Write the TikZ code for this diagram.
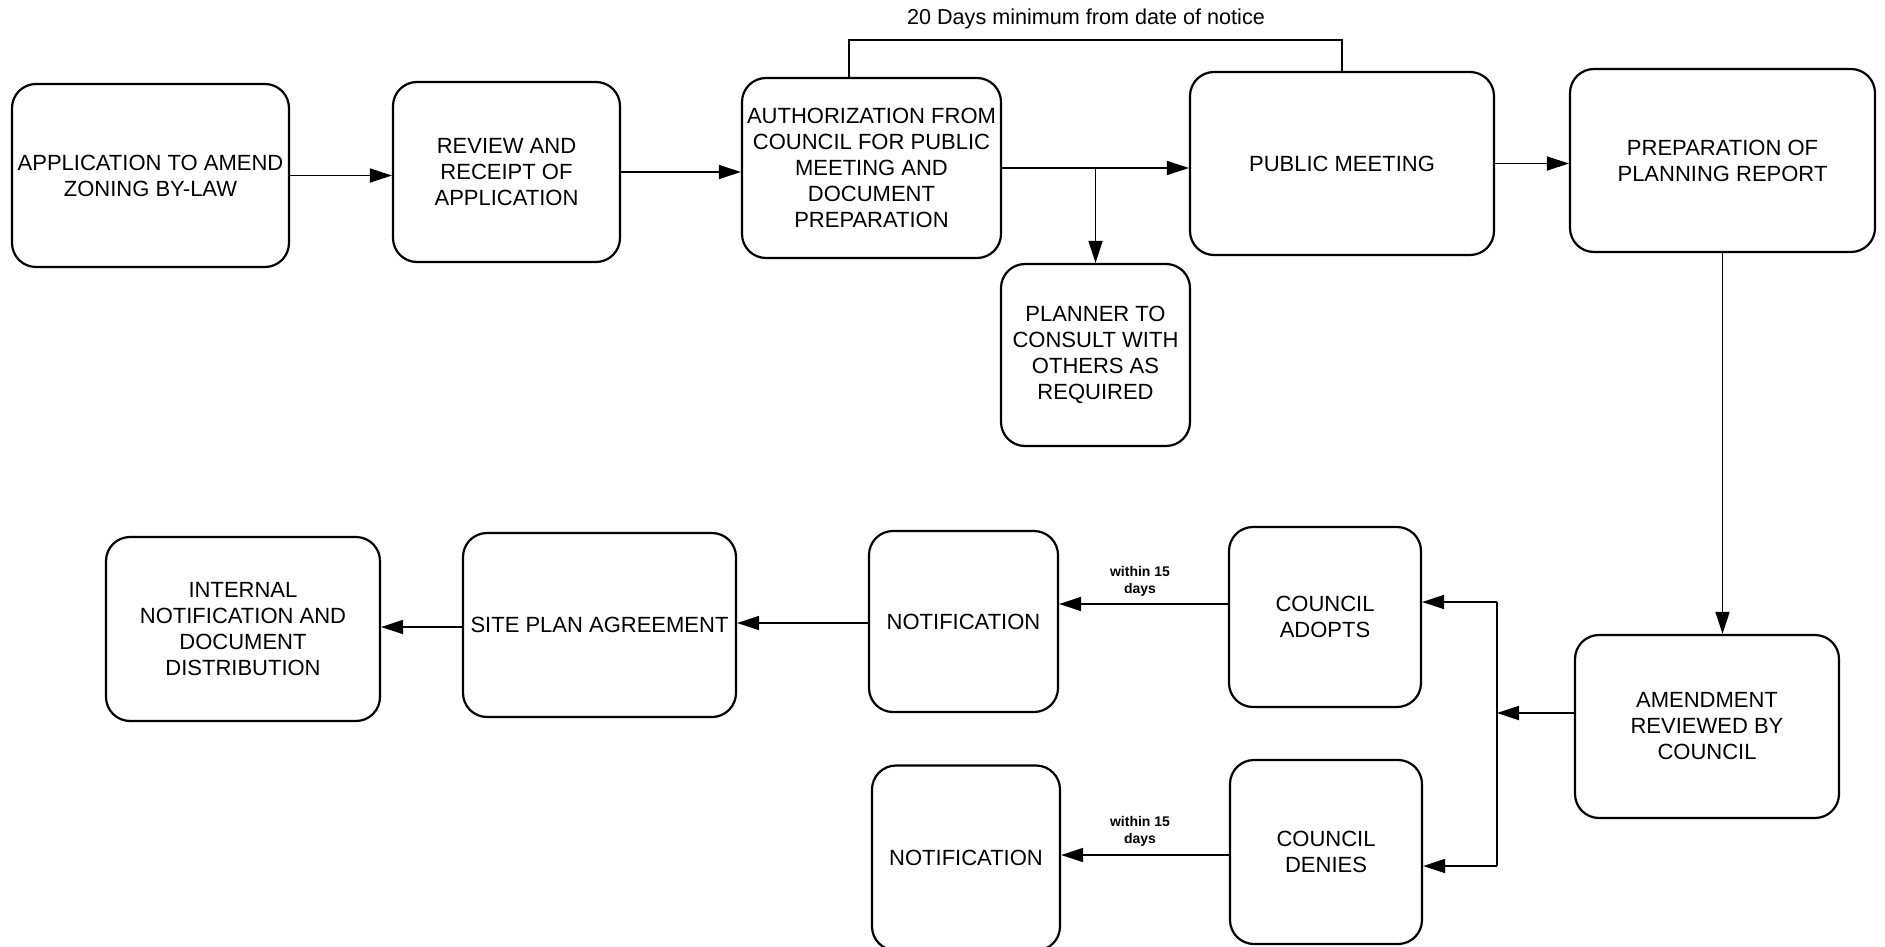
\documentclass[tikz,border=0pt]{standalone}
\usepackage{fontspec}
\setmainfont{Liberation Sans}
\usetikzlibrary{arrows.meta}
\begin{document}
\begin{tikzpicture}[x=0.5pt,y=-0.5pt,
  stepbox/.style={draw, line width=1.1pt, rounded corners=12pt, align=center,
    font=\fontsize{11}{13}\selectfont, inner sep=0pt},
  flow/.style={line width=0.9pt, -{Triangle[length=11pt,width=7pt]}},
  plain/.style={line width=0.9pt},
  note/.style={font=\bfseries\fontsize{7}{8.5}\selectfont, align=center, inner sep=0pt}]
\useasboundingbox (0,0) rectangle (1885,947);

% process steps, top row
\node[stepbox, minimum width=138.5pt, minimum height=91.5pt] (apply) at (150.5,175.5)
  {APPLICATION TO AMEND\\ZONING BY-LAW};
\node[stepbox, minimum width=113.5pt, minimum height=90pt] (review) at (506.5,172)
  {REVIEW AND\\RECEIPT OF\\APPLICATION};
\node[stepbox, minimum width=129.5pt, minimum height=90pt] (auth) at (871.5,168)
  {AUTHORIZATION FROM\\COUNCIL FOR PUBLIC\\MEETING AND\\DOCUMENT\\PREPARATION};
\node[stepbox, minimum width=152pt, minimum height=91.5pt] (meeting) at (1342,163.5)
  {PUBLIC MEETING};
\node[stepbox, minimum width=152.5pt, minimum height=91.5pt] (report) at (1722.5,160.5)
  {PREPARATION OF\\PLANNING REPORT};
\node[stepbox, minimum width=94.5pt, minimum height=91pt] (planner) at (1095.5,355)
  {PLANNER TO\\CONSULT WITH\\OTHERS AS\\REQUIRED};

% council decision and follow-up
\node[stepbox, minimum width=132pt, minimum height=91.5pt] (amend) at (1707,726.5)
  {AMENDMENT\\REVIEWED BY\\COUNCIL};
\node[stepbox, minimum width=96pt, minimum height=90pt] (adopts) at (1325,617)
  {COUNCIL\\ADOPTS};
\node[stepbox, minimum width=96pt, minimum height=92pt] (denies) at (1326,852)
  {COUNCIL\\DENIES};
\node[stepbox, minimum width=94.5pt, minimum height=90.5pt] (notifA) at (963.5,621.5)
  {NOTIFICATION};
\node[stepbox, minimum width=94pt, minimum height=92.5pt] (notifB) at (966,858)
  {NOTIFICATION};
\node[stepbox, minimum width=136.5pt, minimum height=92pt] (site) at (599.5,625)
  {SITE PLAN AGREEMENT};
\node[stepbox, minimum width=137pt, minimum height=92pt] (internal) at (243,629)
  {INTERNAL\\NOTIFICATION AND\\DOCUMENT\\DISTRIBUTION};

% top row connectors
\draw[flow] (apply.east) -- (apply.east -| review.west);
\draw[flow] (review.east) -- (review.east -| auth.west);
\draw[flow] (auth.east) -- (auth.east -| meeting.west);
\draw[flow] (auth.east -| planner.north) -- (planner.north);
\draw[flow] (meeting.east) -- (meeting.east -| report.west);

% notice period bracket
\coordinate (brL) at (849,40);
\draw[plain] (auth.north -| brL) -- (brL) -- (brL -| meeting.north) -- (meeting.north);
\node[font=\fontsize{10.8}{13}\selectfont, inner sep=0pt] (notice) at (1086,19)
  {20 Days minimum from date of notice};

% report to council review
\draw[flow] (report.south) -- (report.south |- amend.north);

% council decision split
\coordinate (split) at (1497,713);
\coordinate (vtop) at (1497,602);
\coordinate (vbot) at (1497,866);
\draw[flow] (amend.west |- split) -- (split);
\draw[plain] (vtop) -- (vbot);
\draw[flow] (vtop) -- (vtop -| adopts.east);
\draw[flow] (vbot) -- (vbot -| denies.east);

% notifications
\coordinate (ya) at (0,604);
\coordinate (yd) at (0,855);
\draw[flow] (adopts.west |- ya) -- (ya -| notifA.east);
\draw[flow] (denies.west |- yd) -- (yd -| notifB.east);
\node[note] (lblA) at (1140,581) {within 15\\days};
\node[note] (lblD) at (1140,831) {within 15\\days};

% bottom row
\coordinate (ys) at (0,623);
\coordinate (yi) at (0,627);
\draw[flow] (notifA.west |- ys) -- (ys -| site.east);
\draw[flow] (site.west |- yi) -- (yi -| internal.east);
\end{tikzpicture}
\end{document}
